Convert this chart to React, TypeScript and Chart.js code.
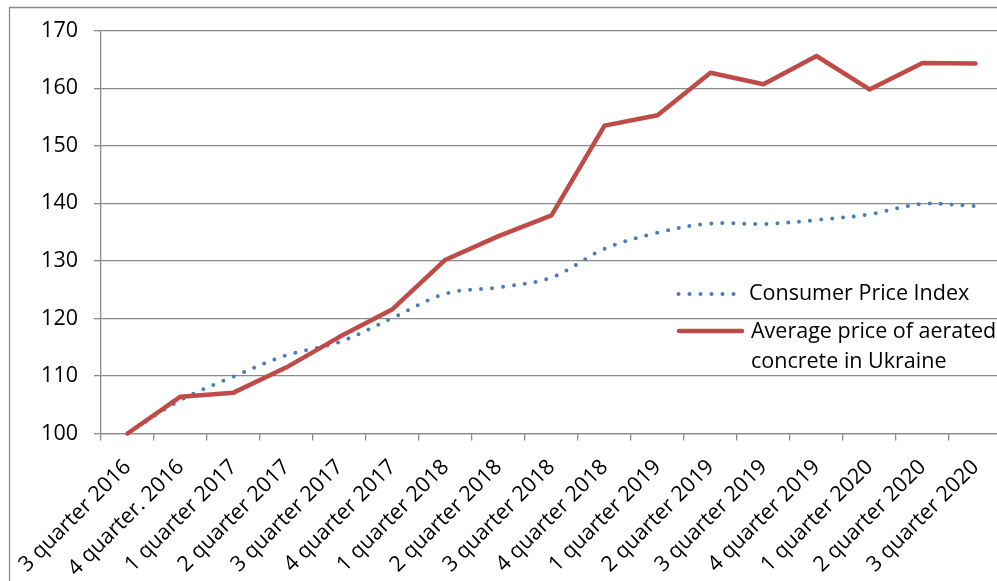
import React, { useEffect, useRef } from "react";
import { Chart, registerables } from "chart.js";

Chart.register(...registerables);

const categories = [
  "3 quarter 2016",
  "4 quarter. 2016",
  "1 quarter 2017",
  "2 quarter 2017",
  "3 quarter 2017",
  "4 quarter 2017",
  "1 quarter 2018",
  "2 quarter 2018",
  "3 quarter 2018",
  "4 quarter 2018",
  "1 quarter 2019",
  "2 quarter 2019",
  "3 quarter 2019",
  "4 quarter 2019",
  "1 quarter 2020",
  "2 quarter 2020",
  "3 quarter 2020",
];

const cpiValues = [
  100, 105.8, 109.9, 113.6, 115.9, 120.1, 124.3, 125.4, 127.1, 132.1, 134.9,
  136.5, 136.4, 137.1, 138.1, 139.9, 139.5,
];

const aeratedValues = [
  100, 106.4, 107.1, 111.5, 116.8, 121.6, 130.2, 134.3, 137.9, 153.5, 155.3,
  162.7, 160.7, 165.6, 159.8, 164.4, 164.3,
];

const seriesNames = [
  "Consumer Price Index",
  ["Average price of aerated", "concrete in Ukraine"],
];

const yMin = 100;
const yMax = 170;
const yStep = 10;

const W = 1002;
const H = 581;
const FONT = "'Open Sans', 'Liberation Sans', sans-serif";
const GRID = "#8a8a8a";
const BLUE = "#4a7ebb";
const RED = "#be4b48";

const framePlugin = {
  id: "frame",
  beforeDraw(chart: any) {
    const ctx = chart.ctx;
    ctx.save();
    ctx.fillStyle = "#ffffff";
    ctx.fillRect(0, 0, chart.width, chart.height);
    ctx.strokeStyle = GRID;
    ctx.lineWidth = 1.3;
    ctx.beginPath();
    ctx.moveTo(9.5, chart.height);
    ctx.lineTo(9.5, 7.5);
    ctx.lineTo(chart.width, 7.5);
    ctx.stroke();
    ctx.restore();
  },
};

const legendPlugin = {
  id: "customLegend",
  afterDraw(chart: any) {
    const ctx = chart.ctx;
    ctx.save();
    // CPI entry
    ctx.strokeStyle = BLUE;
    ctx.lineWidth = 4;
    ctx.lineCap = "round";
    ctx.setLineDash([0, 11]);
    ctx.beginPath();
    ctx.moveTo(678.5, 294);
    ctx.lineTo(736, 294);
    ctx.stroke();
    ctx.setLineDash([]);
    ctx.fillStyle = "#000";
    ctx.font = `21.5px ${FONT}`;
    ctx.textBaseline = "middle";
    ctx.textAlign = "left";
    ctx.fillText(seriesNames[0] as string, 749, 294);
    // aerated entry
    ctx.strokeStyle = RED;
    ctx.lineWidth = 4.5;
    ctx.lineCap = "round";
    ctx.beginPath();
    ctx.moveTo(679, 331);
    ctx.lineTo(742, 331);
    ctx.stroke();
    const lines = seriesNames[1] as string[];
    ctx.fillText(lines[0], 751, 332);
    ctx.fillText(lines[1], 751, 362);
    ctx.restore();
  },
};

export default function App() {
  const ref = useRef<HTMLCanvasElement>(null);
  useEffect(() => {
    if (!ref.current) return;
    const chart = new Chart(ref.current, {
      type: "line",
      data: {
        labels: categories,
        datasets: [
          {
            label: seriesNames[0] as string,
            data: cpiValues,
            borderColor: BLUE,
            borderWidth: 4,
            borderDash: [0, 11],
            borderCapStyle: "round",
            tension: 0.35,
            pointRadius: 0,
            fill: false,
            clip: false,
            order: 1,
          },
          {
            label: (seriesNames[1] as string[]).join(" "),
            data: aeratedValues,
            borderColor: RED,
            borderWidth: 4.5,
            borderCapStyle: "round",
            borderJoinStyle: "round",
            tension: 0,
            pointRadius: 0,
            fill: false,
            clip: false,
            order: 0,
          },
        ],
      },
      options: {
        responsive: false,
        animation: false,
        devicePixelRatio: 1,
        layout: { padding: { top: 30.7, left: 0, right: 0, bottom: 0 } },
        plugins: {
          legend: { display: false },
          tooltip: { enabled: false },
        },
        scales: {
          x: {
            offset: true,
            grid: {
              offset: true,
              drawOnChartArea: false,
              drawTicks: true,
              tickLength: 7,
              color: GRID,
              lineWidth: 1.3,
            },
            border: { color: GRID, width: 1.3 },
            ticks: {
              autoSkip: false,
              minRotation: 45,
              maxRotation: 45,
              color: "#000",
              padding: 14,
              font: { family: FONT, size: 21.5 },
            },
            afterFit: (s: any) => {
              s.height = H - 433.5;
              s.paddingLeft = 0;
              s.paddingRight = 0;
            },
          },
          y: {
            min: yMin,
            max: yMax,
            grid: {
              color: GRID,
              lineWidth: 1.3,
              drawTicks: true,
              tickLength: 7,
            },
            border: { color: GRID, width: 1.3 },
            ticks: {
              stepSize: yStep,
              color: "#000",
              padding: 16,
              font: { family: FONT, size: 21.5 },
            },
            afterFit: (s: any) => {
              s.width = 101;
            },
          },
        },
      },
      plugins: [framePlugin, legendPlugin],
    });
    return () => chart.destroy();
  }, []);

  return (
    <div
      style={{
        position: "absolute",
        left: 0,
        top: 0,
        width: 997,
        height: 581,
        overflow: "hidden",
        background: "#fff",
      }}
    >
      <canvas ref={ref} width={W} height={H} style={{ display: "block" }} />
    </div>
  );
}
